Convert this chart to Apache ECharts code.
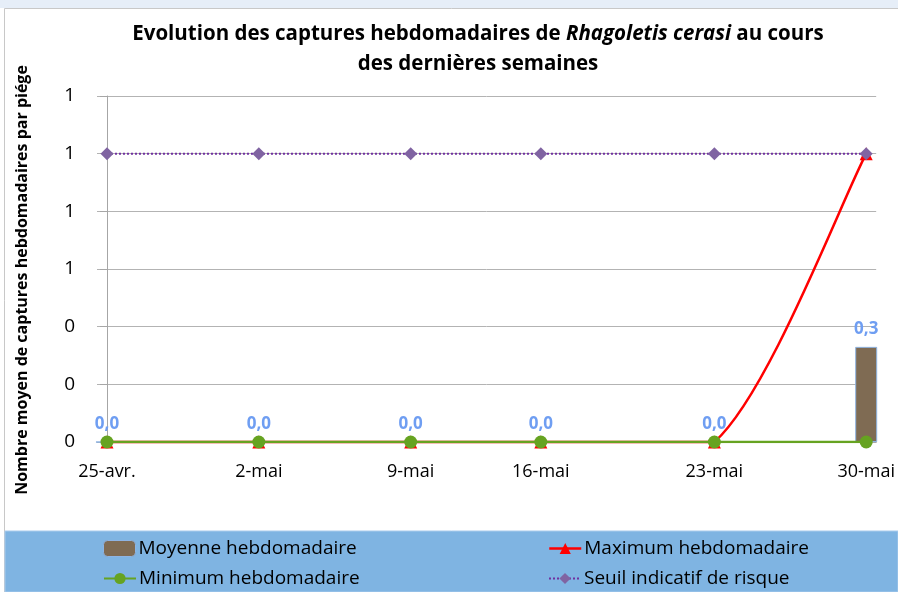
<!DOCTYPE html>
<html><head><meta charset="utf-8">
<script src="https://cdn.jsdelivr.net/npm/echarts@6/dist/echarts.min.js"></script>
<style>html,body{margin:0;padding:0;background:#fff}#c{width:898px;height:592px}</style>
</head><body><div id="c"></div>
<script>
// Data
const dayOffsets = [0, 7, 14, 20, 28, 35];
const tickLabels = ['25-avr.', '2-mai', '9-mai', '16-mai', '23-mai', '30-mai'];
const moyenne = [0, 0, 0, 0, 0, 0.33];
const maximum = [0, 0, 0, 0, 0, 1];
const minimum = [0, 0, 0, 0, 0, 0];
const seuil = [1, 1, 1, 1, 1, 1];
const yTicks = [0, 0.2, 0.4, 0.6, 0.8, 1.0, 1.2];

const FONT = 'Open Sans';
const pair = arr => arr.map((v, i) => [dayOffsets[i], v]);
const labelMap = {};
dayOffsets.forEach((d, i) => labelMap[d] = tickLabels[i]);

// Excel-like smoothed path (Catmull-Rom, tension 1/6) through library-computed coordinates
function smoothPath(pts) {
  const clamp = (v, a, b) => Math.max(Math.min(a, b), Math.min(Math.max(a, b), v));
  let d = 'M' + pts[0][0] + ' ' + pts[0][1];
  for (let i = 0; i < pts.length - 1; i++) {
    const p0 = pts[Math.max(i - 1, 0)], p1 = pts[i], p2 = pts[i + 1], p3 = pts[Math.min(i + 2, pts.length - 1)];
    const c1x = p1[0] + (p2[0] - p0[0]) / 6, c1y = clamp(p1[1] + (p2[1] - p0[1]) / 6, p1[1], p2[1]);
    const c2x = p2[0] - (p3[0] - p1[0]) / 6, c2y = clamp(p2[1] - (p3[1] - p1[1]) / 6, p1[1], p2[1]);
    d += ' C' + c1x + ' ' + c1y + ' ' + c2x + ' ' + c2y + ' ' + p2[0] + ' ' + p2[1];
  }
  return d;
}

const chart = echarts.init(document.getElementById('c'), null, {renderer: 'canvas'});
const legendText = {fontFamily: FONT, fontSize: 19, color: '#000', padding: [0, 0, 0, -2]};
chart.setOption({
  animation: false,
  backgroundColor: '#fff',
  textStyle: {fontFamily: FONT},
  graphic: [
    {type: 'rect', shape: {x: 0, y: 0, width: 898, height: 8}, style: {fill: '#e6eef8'}, z: -10},
    {type: 'rect', shape: {x: 4.5, y: 8.5, width: 900, height: 600}, style: {fill: '#fff', stroke: '#c8c8c8', lineWidth: 1}, z: -9},
    {type: 'rect', shape: {x: 5, y: 531, width: 893, height: 61}, style: {fill: '#7fb4e2', stroke: '#a9cbec', lineWidth: 1}, z: -8},
    {type: 'text', x: 22, y: 280, rotation: Math.PI / 2,
     style: {text: 'Nombre moyen de captures hebdomadaires par piége', fontFamily: FONT, fontWeight: 'bold', fontSize: 16, fill: '#000', align: 'center', verticalAlign: 'middle'}}
  ],
  title: {
    text: '{b|Evolution des captures hebdomadaires de }{i|Rhagoletis cerasi}{b| au cours}\n{b|des dernières semaines}',
    left: 473, top: 14, textAlign: 'center',
    textStyle: {
      fontFamily: FONT, fontSize: 20.5, fontWeight: 'bold', color: '#000', lineHeight: 30, align: 'center',
      rich: {
        b: {fontFamily: FONT, fontSize: 20.5, fontWeight: 'bold', color: '#000', lineHeight: 30},
        i: {fontFamily: FONT, fontSize: 20.5, fontWeight: 'bold', fontStyle: 'italic', color: '#000', lineHeight: 30}
      }
    }
  },
  legend: [
    {data: ['Moyenne hebdomadaire'], left: 103, top: 539, padding: 0, itemWidth: 32, itemHeight: 16, textStyle: legendText, itemStyle: {borderColor: '#8eb4e3', borderWidth: 1}},
    {data: ['Maximum hebdomadaire'], left: 548, top: 539, padding: 0, itemWidth: 32, itemHeight: 14, textStyle: legendText,
     lineStyle: {color: '#ff0000', width: 2.5, opacity: 1}},
    {data: ['Minimum hebdomadaire'], left: 103, top: 569, padding: 0, itemWidth: 32, itemHeight: 14, textStyle: legendText},
    {data: ['Seuil indicatif de risque'], left: 548, top: 569, padding: 0, itemWidth: 32, itemHeight: 14, textStyle: legendText}
  ],
  grid: {left: 97, right: 20, top: 96, bottom: 150},
  xAxis: {
    type: 'value', min: -0.46, max: 35.46,
    axisLine: {show: true, lineStyle: {color: '#a6a6a6'}},
    axisTick: {show: false},
    splitLine: {show: false},
    axisLabel: {customValues: dayOffsets, formatter: v => labelMap[v] || '', fontFamily: FONT, fontSize: 18, color: '#000', margin: 21}
  },
  yAxis: {
    type: 'value', min: 0, max: 1.2, interval: 0.2,
    axisLine: {show: true, lineStyle: {color: '#a6a6a6'}},
    axisTick: {show: true, length: 7, lineStyle: {color: '#a6a6a6'}},
    splitLine: {show: true, lineStyle: {color: '#b3b3b3', width: 1}},
    axisLabel: {customValues: yTicks, formatter: v => String(Math.round(v)), fontFamily: FONT, fontSize: 19, color: '#000', margin: 22}
  },
  series: [
    {name: 'Moyenne hebdomadaire', type: 'bar', data: pair(moyenne), barWidth: 22, z: 1,
     itemStyle: {color: '#7f6b53', borderColor: '#8eb4e3', borderWidth: 1},
     label: {show: true, position: 'top', distance: 9, formatter: p => p.value[1].toFixed(1).replace('.', ','), color: '#6f9ef2', fontWeight: 'bold', fontSize: 17, fontFamily: FONT}},
    {name: 'maxCurve', type: 'custom', data: pair(maximum), z: 3, silent: true,
     renderItem: (params, api) => {
       if (params.dataIndex !== 0) return null;
       const pts = maximum.map((v, i) => api.coord([dayOffsets[i], v]));
       return {type: 'path', shape: {pathData: smoothPath(pts)}, style: {stroke: '#ff0000', lineWidth: 2.5, fill: null}};
     }},
    {name: 'Maximum hebdomadaire', type: 'line', data: pair(maximum), z: 3,
     symbol: 'triangle', symbolSize: 13, lineStyle: {color: '#ff0000', width: 2.5, opacity: 0}, itemStyle: {color: '#ff0000'}},
    {name: 'Minimum hebdomadaire', type: 'line', data: pair(minimum), z: 4,
     symbol: 'circle', symbolSize: 13, lineStyle: {color: '#66a321', width: 2.5}, itemStyle: {color: '#66a321'}},
    {name: 'Seuil indicatif de risque', type: 'line', data: pair(seuil), z: 5,
     symbol: 'diamond', symbolSize: 13, lineStyle: {color: '#7030a0', width: 2, type: 'dotted'}, itemStyle: {color: '#8064a2'}}
  ]
});
</script></body></html>
